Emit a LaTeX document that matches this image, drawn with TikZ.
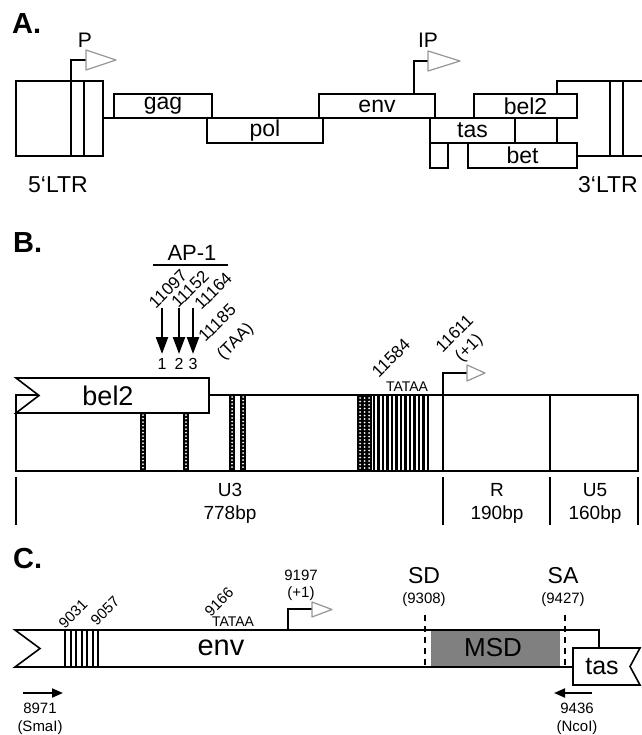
\documentclass[tikz,border=0pt]{standalone}
\usepackage{fontspec}
\setmainfont{Liberation Sans}
\usetikzlibrary{arrows.meta, positioning, calc}
\definecolor{promgray}{RGB}{150,150,150}
\definecolor{msdgray}{RGB}{128,128,128}

\begin{document}
\begin{tikzpicture}[x=1pt, y=-1pt,
        gene/.style={draw, line width=1.6pt, fill=white, inner sep=0pt,
                     font=\fontsize{23}{23}\selectfont},
        lbl/.style={inner sep=0pt, align=center, font=\fontsize{#1}{#1}\selectfont},
        panel/.style={inner sep=0pt, anchor=base west,
                      font=\fontsize{29}{29}\selectfont\bfseries},
        prom/.style={line width=1.6pt},
        promtip/.style={draw=promgray, line width=1.2pt, fill=white, line join=round},
        site/.style={-{Triangle[length=17pt, width=12pt]}, line width=2.2pt},
        primer/.style={-{Triangle[length=11pt, width=9pt]}, line width=2pt},
        tick/.style={line width=2.5pt},
        hatch/.style={line width=2.2pt},
        dotbar/.style={white, line width=2pt, line cap=round, dash pattern=on 0pt off 3.5pt},
        splice/.style={line width=2pt, dash pattern=on 6pt off 5pt},
    ]
    \useasboundingbox (0,0) rectangle (641,735);

    % A. genome
    \node[panel] (pA) at (12,34) {A.};
    \node[gene, minimum width=87pt, minimum height=75pt] (ltr5) at (59.5,118.5) {};
    \draw[line width=1.6pt] (71,81) -- (71,156) (84,81) -- (84,156);
    \draw[line width=1.6pt] (ltr5.east |- 0,118) -- (557,118);
    \node[gene, minimum width=98pt, minimum height=24pt] (gag) at (163,106) {gag};
    \node[gene, minimum width=116pt, minimum height=25pt] (pol) at (265,130.5) {pol};
    \node[gene, minimum width=116pt, minimum height=24pt] (env) at (377,106) {env};
    \node[gene, minimum width=88pt, minimum height=75pt] (ltr3) at (601,118.5) {};
    \draw[line width=1.6pt] (610,81) -- (610,156) (623,81) -- (623,156);
    \node[gene, minimum width=85pt, minimum height=25pt] (tas) at (472.5,130.5) {tas};
    \node[gene, minimum width=42pt, minimum height=25pt] (tasend) at (536,130.5) {};
    \node[gene, minimum width=18pt, minimum height=25pt] (tasex) at (439,155.5) {};
    \node[gene, minimum width=109pt, minimum height=25pt] (bet) at (522.5,155.5) {bet};
    \node[gene, minimum width=103pt, minimum height=24pt] (bel2) at (525.5,106) {bel2};
    \node[lbl=23] (lab5) at (58,185) {5‘LTR};
    \node[lbl=23, anchor=west] (lab3) at (578,185) {3‘LTR};

    \draw[prom] (71,81) -- (71,60) -- (86,60);
    \draw[promtip] (86,50) -- (116,60) -- (86,70) -- cycle;
    \node[lbl=21] (P) at (85,40) {P};
    \draw[prom] (414,94) -- (414,61) -- (428,61);
    \draw[promtip] (428,51) -- (460,61) -- (428,71) -- cycle;
    \node[lbl=21] (IP) at (428,40) {IP};

    % B. LTR
    \node[panel] (pB) at (13,252) {B.};
    \node[lbl=22] (ap1) at (192,252.5) {AP-1};
    \draw[line width=2pt] (153,265) -- (228,265);
    \foreach \x/\n in {162/1,179/2,193/3} {
        \coordinate (t\n) at (\x,308);
        \draw[site] (t\n) -- ++(0,46);
        \node[lbl=16] (n\n) at (\x,364) {\n};
    }
    \node[lbl=17, rotate=45] (s11097) at (168,289) {11097};
    \node[lbl=17, rotate=45] (s11152) at (190,289) {11152};
    \node[lbl=17, rotate=45] (s11164) at (213,291) {11164};
    \node[lbl=17, rotate=45] (s11185) at (227,333) {11185\\[8pt](TAA)};

    \draw[line width=1.6pt] (16,395) rectangle (638,471);
    \draw[line width=1.6pt] (443,395) -- (443,471) (550,395) -- (550,471);
    \fill (357,395) rectangle (372,471);
    \foreach \x in {360,364.5,369} \draw[dotbar] (\x,398) -- (\x,470);
    \foreach \i in {0,...,12} \draw[hatch] ({374+\i*4.5},395) -- ++(0,76);
    \foreach \x in {143,186} {
        \fill (\x-3,413) rectangle (\x+3,471);
        \draw[dotbar] (\x,415) -- (\x,470);
    }
    \foreach \x in {232,243} {
        \fill (\x-3,395) rectangle (\x+3,471);
        \draw[dotbar] (\x,397) -- (\x,470);
    }
    \draw[line width=1.6pt, fill=white] (16,378) -- (209,378) -- (209,413)
        -- (16,413) -- (39,395.5) -- cycle;
    \node[lbl=27] (bel2b) at (108,396) {bel2};

    \node[lbl=14] (tataB) at (407,387) {TATAA};
    \node[lbl=17, rotate=45] (s11584) at (391,358) {11584};
    \draw[prom] (443,395) -- (443,373) -- (467,373);
    \draw[promtip] (467,365) -- (485,373) -- (467,381) -- cycle;
    \node[lbl=17, rotate=45] (s11611) at (462.5,341.5) {11611\\[3pt](+1)};

    \foreach \x in {16,443,550,638} \draw[tick] (\x,477) -- (\x,525);
    \node[lbl=19] (u3) at (230,503.5) {U3\\[4pt]778bp};
    \node[lbl=19] (r) at (497,503.5) {R\\[4pt]190bp};
    \node[lbl=19] (u5) at (595,503.5) {U5\\[4pt]160bp};

    % C. env region
    \node[panel] (pC) at (13,568) {C.};
    \draw[line width=1.6pt, fill=white] (15,630) -- (599,630) -- (599,667)
        -- (15,667) -- (40,648.5) -- cycle;
    \fill[msdgray] (431,631) rectangle (560,666);
    \node[lbl=26] (msd) at (493,648) {MSD};
    \foreach \i in {0,...,6} \draw[line width=2pt] ({65+\i*5.5},630) -- ++(0,37);
    \draw[splice] (425,615) -- (425,667) (565,615) -- (565,667);
    \draw[line width=1.6pt, fill=white] (573,648) -- (640,648) -- (630,666.5)
        -- (640,685) -- (573,685) -- cycle;
    \node[lbl=25] (tasc) at (602,667) {tas};
    \node[lbl=29] (envc) at (221,648) {env};

    \node[lbl=15, rotate=45] (s9031) at (73,614) {9031};
    \node[lbl=15, rotate=45] (s9057) at (105,611) {9057};
    \node[lbl=15, rotate=45] (s9166) at (219,602) {9166};
    \node[lbl=14] (tataC) at (233,622) {TATAA};
    \draw[prom] (288,630) -- (288,609) -- (312,609);
    \draw[promtip] (312,602) -- (332,609.5) -- (312,617) -- cycle;
    \node[lbl=15] (s9197) at (301,585.5) {9197\\[2pt](+1)};

    \node[lbl=23] (sd) at (424,576) {SD};
    \node[lbl=15] (sdpos) at (424,600) {(9308)};
    \node[lbl=23] (sa) at (563,576) {SA};
    \node[lbl=15] (sapos) at (563,600) {(9427)};

    \draw[primer] (23,693) -- (63,693);
    \node[lbl=15] (s8971) at (40,719) {8971\\[3pt](SmaI)};
    \draw[primer] (592,693) -- (554,693);
    \node[lbl=15] (s9436) at (577,719) {9436\\[3pt](NcoI)};
\end{tikzpicture}
\end{document}
